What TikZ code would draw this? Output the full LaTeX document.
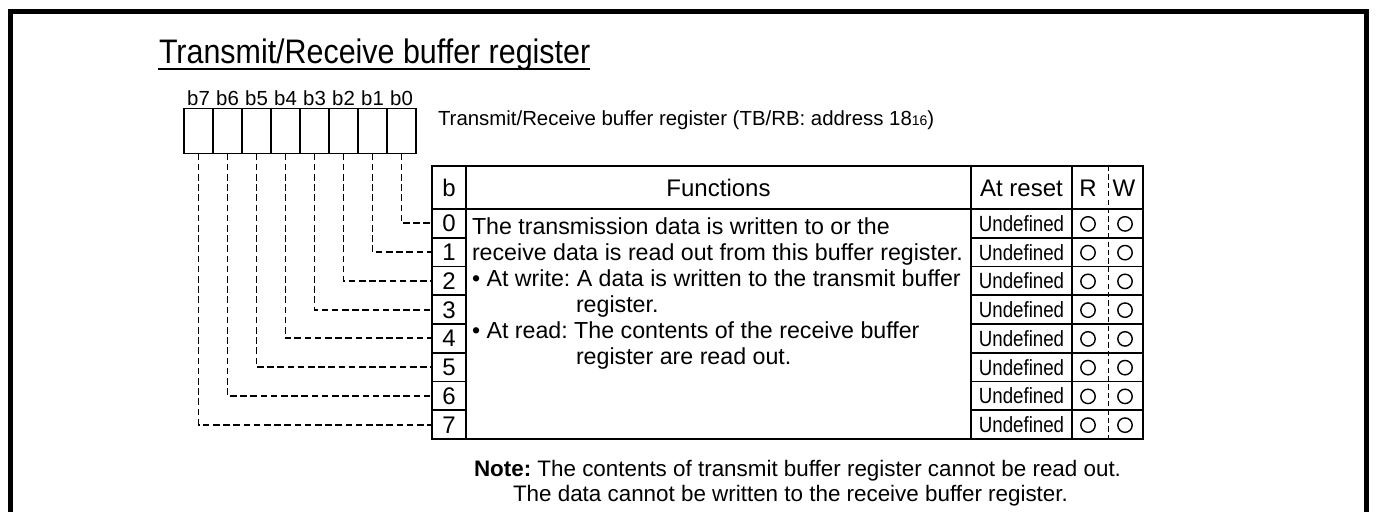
\documentclass[tikz,border=0pt]{standalone}
\usepackage{fontspec}
\setmainfont{Liberation Sans}
\frenchspacing
\begin{document}
\begin{tikzpicture}[x=0.5pt,y=-0.5pt,
  tl/.style={line width=0.8pt},
  frame/.style={line width=2.5pt},
  txt/.style={inner sep=0pt, outer sep=0pt, anchor=base west},
  ctxt/.style={inner sep=0pt, outer sep=0pt, anchor=base},
  bitbox/.style={draw, line width=0.8pt, minimum width=14.5pt, minimum height=22.5pt, inner sep=0pt, outer sep=0pt},
  cell/.style={draw, line width=0.8pt, inner sep=0pt, outer sep=0pt, minimum height=14.375pt},
  conn/.style={line width=0.9pt, dash pattern=on 3.3pt off 1.8pt},
  rwdiv/.style={line width=0.5pt, dash pattern=on 2.6pt off 1.6pt},
  okmark/.style={circle, draw, line width=0.7pt, minimum size=7.2pt, inner sep=0pt},
  body/.style={font=\fontsize{11.6}{13}\selectfont},
  head/.style={font=\fontsize{12}{14}\selectfont}
]
\useasboundingbox (0,0) rectangle (1380,511);
% outer frame (open at the bottom)
\draw[frame] (10.7,540) -- (10.7,11) -- (1366.7,11) -- (1366.7,540);

% title
\node[txt, font=\fontsize{17}{20}\selectfont] (title) at (159,63) {\scalebox{0.895}[1]{Transmit/Receive buffer register}};
\coordinate (ulA) at (158,69);
\coordinate (ulB) at (590,69);
\draw[line width=0.6pt] (ulA) -- (ulB);

% bit boxes
\foreach \i in {0,...,7}{
  \pgfmathsetmacro{\cx}{184+29*(7-\i)+14.5}
  \node[bitbox] (bit\i) at (\cx,131) {};
  \node[ctxt, font=\fontsize{10.2}{12}\selectfont] (bl\i) at (\cx,105) {b\i};
}
\node[txt, font=\fontsize{10.2}{12}\selectfont] (reglabel) at (438,125)
  {Transmit/Receive buffer register (TB/RB: address 18{\fontsize{7}{8}\selectfont 16})};

% table header
\node[cell, minimum width=17pt, minimum height=21.5pt] (hb) at (449,187.5) {};
\node[cell, minimum width=252.5pt, minimum height=21.5pt] (hf) at (718.5,187.5) {};
\node[cell, minimum width=50.5pt, minimum height=21.5pt] (hr) at (1021.5,187.5) {};
\node[cell, minimum width=35.5pt, minimum height=21.5pt] (hrw) at (1107.5,187.5) {};
\node[ctxt, head] (thb) at (449,196) {b};
\node[ctxt, head] (thf) at (718.5,196) {Functions};
\node[ctxt, head] (thr) at (1021.5,196) {At reset};
\node[ctxt, head] (thR) at (1088,196) {R};
\node[ctxt, head] (thW) at (1124,196) {W};

% functions body cell
\node[cell, minimum width=252.5pt, minimum height=115pt] (fbody) at (718.5,324) {};

% rows
\foreach \i in {0,...,7}{
  \pgfmathsetmacro{\cy}{223.375+28.75*\i}
  \node[cell, minimum width=17pt] (r\i) at (449,\cy) {};
  \node[ctxt, head] (rn\i) at (449,\cy+8.5) {\i};
  \node[cell, minimum width=50.5pt] (u\i) at (1021.5,\cy) {};
  \node[ctxt, font=\fontsize{11}{12}\selectfont] (ut\i) at (1021.5,\cy+8) {\scalebox{0.85}[1]{Undefined}};
  \node[cell, minimum width=35.5pt] (rw\i) at (1107.5,\cy) {};
  \node[okmark] (cr\i) at (1088,\cy+0.5) {};
  \node[okmark] (cw\i) at (1125,\cy+0.5) {};
  \draw[conn] (bit\i.south) |- (r\i.west);
}
% R/W dashed divider
\coordinate (dvA) at (1108,166);
\coordinate (dvB) at (1108,439);
\draw[rwdiv] (dvA) -- (dvB);

% function text
\node[txt, body] (l1) at (472,234.5) {The transmission data is written to or the};
\node[txt, body] (l2) at (472,260.5) {receive data is read out from this buffer register.};
\node[txt, body] (l3) at (472,286.5) {\textbullet\ At write: A data is written to the transmit buffer};
\node[txt, body] (l4) at (576,312.5) {register.};
\node[txt, body] (l5) at (472,338.5) {\textbullet\ At read: The contents of the receive buffer};
\node[txt, body] (l6) at (576,364.5) {register are read out.};

% note
\node[txt, font=\fontsize{11.2}{13}\selectfont] (n1) at (474,476)
  {\textbf{Note:} The contents of transmit buffer register cannot be read out.};
\node[txt, font=\fontsize{11.2}{13}\selectfont] (n2) at (513,501)
  {The data cannot be written to the receive buffer register.};
\end{tikzpicture}
\end{document}
